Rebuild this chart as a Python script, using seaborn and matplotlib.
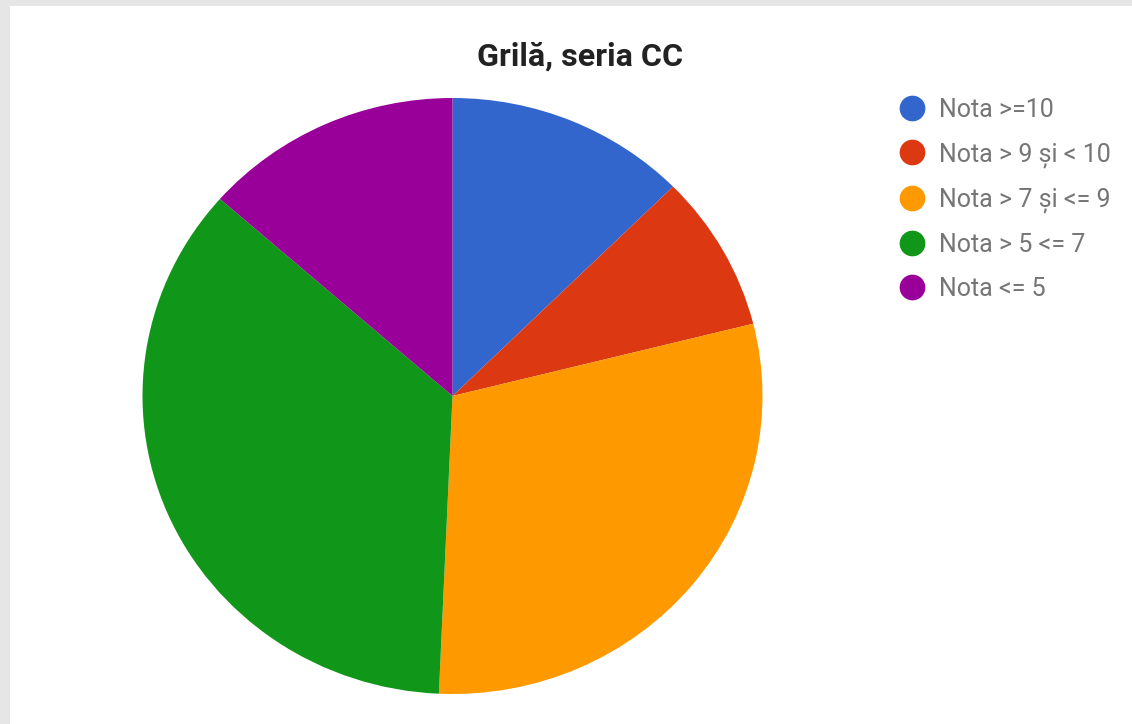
import matplotlib
matplotlib.use("Agg")
import matplotlib.pyplot as plt
import seaborn as sns
from matplotlib.lines import Line2D
from matplotlib.patches import Rectangle

categories = ["Nota >=10", "Nota > 9 și < 10", "Nota > 7 și <= 9", "Nota > 5 <= 7", "Nota <= 5"]
values = [12.6, 8.5, 29.6, 35.8, 13.5]
colors = ["#3366cc", "#dc3912", "#ff9900", "#109618", "#990099"]
title = "Grilă, seria CC"

sns.set_theme(style="white")
plt.rcParams["font.family"] = ["Roboto", "DejaVu Sans"]

W, H = 1132, 724
fig = plt.figure(figsize=(W / 100, H / 100), dpi=100)
fig.patch.set_facecolor("#e6e6e6")
fig.patches.append(Rectangle((10 / W, 0), 1 - 10 / W, (H - 6) / H, transform=fig.transFigure,
                             facecolor="white", edgecolor="none", zorder=-10))

ax = fig.add_axes([142.5 / W, (H - 694) / H, 620 / W, 596 / H])
ax.set_zorder(5)
ax.patch.set_alpha(0)
ax.pie(values, colors=colors, startangle=90, counterclock=False,
       wedgeprops=dict(linewidth=0))
ax.set_aspect("auto")
ax.set_xlim(-1, 1)
ax.set_ylim(-1, 1)
ax.axis("off")

fig.text(580 / W, 1 - 57 / H, title, ha="center", va="center", fontsize=23.2,
         fontweight="bold", color="#222222")

handles = [Line2D([0], [0], marker="o", linestyle="none", markersize=17.5,
                  markerfacecolor=c, markeredgecolor=c) for c in colors]
leg = fig.legend(handles, categories, loc="upper left",
                 bbox_to_anchor=(899 / W, 1 - 98 / H), frameon=False,
                 fontsize=18, labelspacing=0.8, handletextpad=0.6,
                 borderpad=0, borderaxespad=0, handlelength=1.0)
for t in leg.get_texts():
    t.set_color("#757575")

fig.savefig("out.png", dpi=100, facecolor=fig.get_facecolor())
